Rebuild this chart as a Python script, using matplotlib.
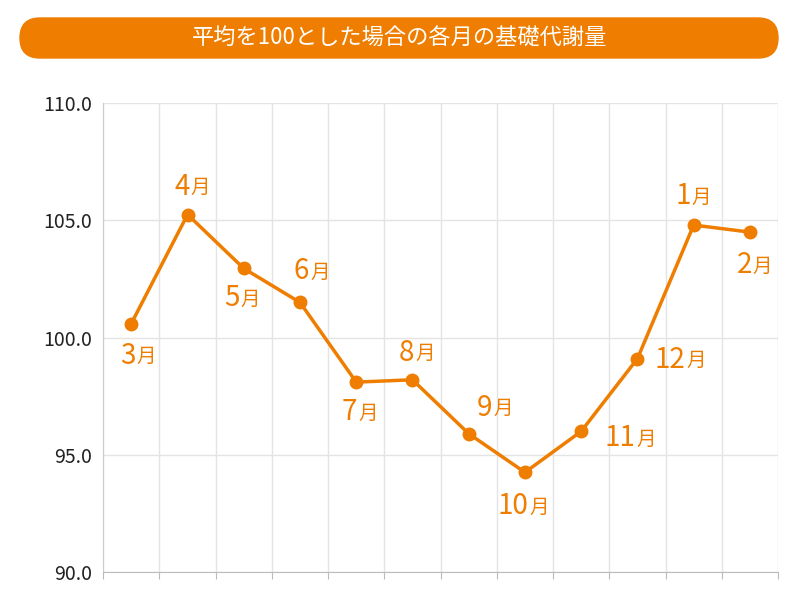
import matplotlib
matplotlib.use("Agg")
import matplotlib.pyplot as plt
from matplotlib.patches import FancyBboxPatch
from matplotlib.transforms import IdentityTransform

months = ["3","4","5","6","7","8","9","10","11","12","1","2"]
values = [100.6,105.25,102.95,101.5,98.1,98.2,95.9,94.25,96.0,99.1,104.8,104.5]
yticks = [90.0,95.0,100.0,105.0,110.0]
# label offsets in pixels (dx, dy)
offsets = [(4,-32),(2,28),(-4,-30),(9,31),(1,-30),(2,27),(24,26),(3,-34),(54,-7),(48,-1),(-3,29),(2,-33)]

ORANGE = "#EE7D00"
plt.rcParams["font.family"] = ["Noto Sans CJK JP"]
fig = plt.figure(figsize=(8,6), dpi=100)
ax = fig.add_axes([0.129,0.0467,0.8435,0.7813])
x = list(range(len(months)))
ax.plot(x, values, color=ORANGE, lw=2.5, marker="o", ms=9, zorder=3)
ax.set_xlim(-0.5,11.5); ax.set_ylim(90,110)
ax.set_yticks(yticks); ax.set_yticklabels([f"{v:.1f}" for v in yticks], fontsize=14, color="#222")
ax.set_xticks([i+0.5 for i in range(-1,12)]); ax.set_xticklabels([])
ax.tick_params(axis="x", length=5, color="#bbb")
ax.tick_params(axis="y", length=0, pad=8)
ax.grid(True, color="#e4e4e4", lw=1)
for s in ["top","right"]: ax.spines[s].set_visible(False)
ax.spines["left"].set_color("#ccc"); ax.spines["bottom"].set_color("#bbb")
for xi, v, m, (dx,dy) in zip(x, values, months, offsets):
    ax.annotate(m, (xi,v), xytext=(dx,dy), textcoords="offset pixels", ha="right", va="center",
                fontsize=20, color=ORANGE)
    ax.annotate("月", (xi,v), xytext=(dx+1,dy-1), textcoords="offset pixels", ha="left", va="center",
                fontsize=14, color=ORANGE)
fig.patches.append(FancyBboxPatch((20,542),758,40, boxstyle="round,pad=0,rounding_size=20",
                                  transform=IdentityTransform(), color=ORANGE))
fig.text(0.5,0.936,"平均を100とした場合の各月の基礎代謝量", ha="center", va="center", color="white",
         fontsize=16)
fig.savefig("out.png", dpi=100)
